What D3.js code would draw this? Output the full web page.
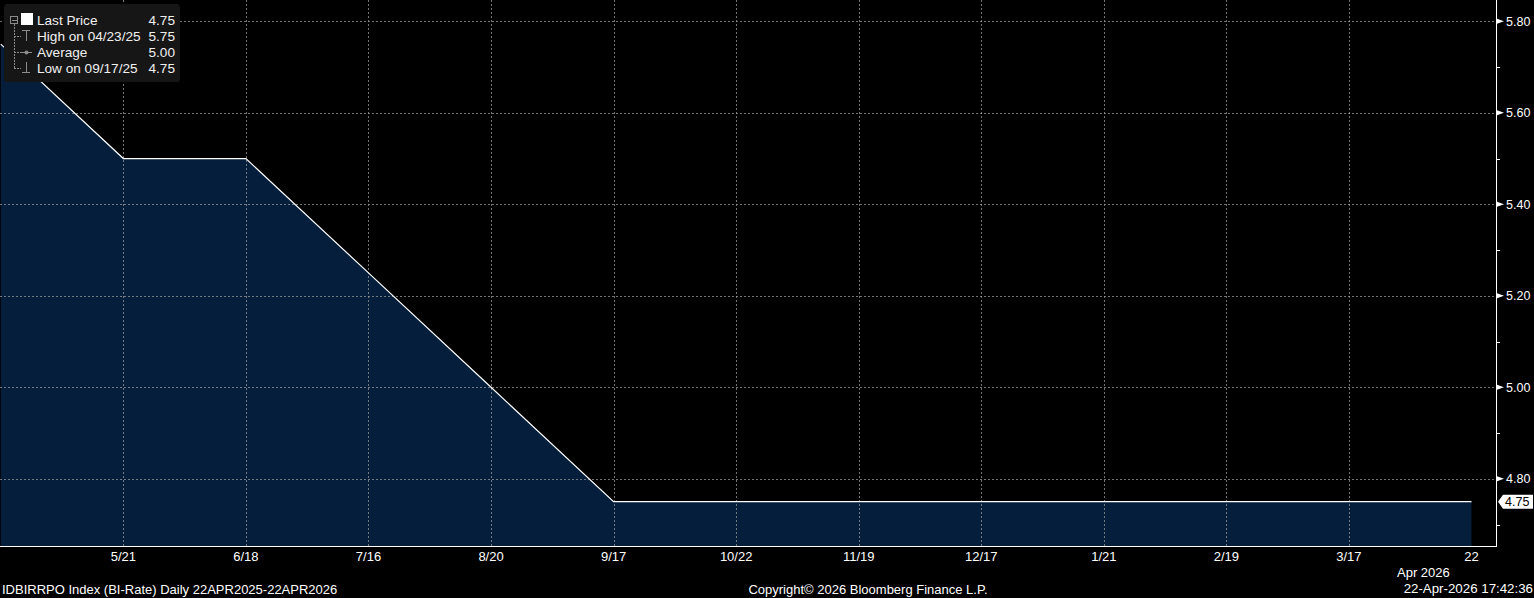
<!DOCTYPE html>
<html><head><meta charset="utf-8">
<script src="https://cdn.jsdelivr.net/npm/d3@7"></script>
<style>html,body{margin:0;padding:0;background:#000;overflow:hidden}</style>
</head><body><svg id="c" width="1534" height="598"></svg>
<script>
const dates = ["4/23","5/21","6/18","7/16","8/20","9/17","10/22","11/19","12/17","1/21","2/19","3/17","4/22"];
const tickLabels = ["", "5/21","6/18","7/16","8/20","9/17","10/22","11/19","12/17","1/21","2/19","3/17","22"];
const values = [5.75,5.50,5.50,5.25,5.00,4.75,4.75,4.75,4.75,4.75,4.75,4.75,4.75];
const yTicks = [4.80,5.00,5.20,5.40,5.60,5.80];
const yMinorTicks = [4.70,4.90,5.10,5.30,5.50,5.70];
const legendLabels = ["Last Price","High on 04/23/25","Average","Low on 09/17/25"];
const legendValues = ["4.75","5.75","5.00","4.75"];
const lastValue = 4.75;
const footerLeft = "IDBIRRPO Index (BI-Rate) Daily 22APR2025-22APR2026";
const footerMid = "Copyright\u00A9 2026 Bloomberg Finance L.P.";
const footerRight = "22-Apr-2026 17:42:36";
const yearLabel = "Apr 2026";

const W = 1534, H = 598;
const plotRight = 1496, plotBottom = 546;
const FONT = "'Liberation Sans', Arial, sans-serif";
const svg = d3.select("#c");
svg.append("rect").attr("width", W).attr("height", H).attr("fill", "#000");

const x = d3.scalePoint().domain(dates).range([0.8, 1471.5]);
const y = d3.scaleLinear().domain([4.80, 5.80]).range([478.8, 21.3]);
const data = dates.map((d, i) => ({d, v: values[i]}));

// area
svg.append("path").datum(data)
  .attr("d", d3.area().x(p => x(p.d)).y0(plotBottom).y1(p => y(p.v)))
  .attr("fill", "#041e3b");

// gridlines
const grid = svg.append("g").attr("stroke", "#9a9a9a").attr("stroke-opacity", 0.75)
  .attr("stroke-width", 1).attr("stroke-dasharray", "2,2").attr("shape-rendering", "crispEdges");
grid.selectAll("line.h").data(yTicks).join("line")
  .attr("x1", 0).attr("x2", plotRight).attr("y1", d => Math.round(y(d)) + 0.5).attr("y2", d => Math.round(y(d)) + 0.5);
grid.selectAll("line.v").data(dates.slice(1, -1)).join("line")
  .attr("y1", 0).attr("y2", plotBottom).attr("x1", d => Math.round(x(d)) + 0.5).attr("x2", d => Math.round(x(d)) + 0.5);

// line
svg.append("path").datum(data)
  .attr("d", d3.line().x(p => x(p.d)).y(p => y(p.v)))
  .attr("fill", "none").attr("stroke", "#fff").attr("stroke-width", 1.2);

// axes lines
svg.append("line").attr("x1", plotRight + 0.5).attr("x2", plotRight + 0.5).attr("y1", 0).attr("y2", plotBottom + 1)
  .attr("stroke", "#fff").attr("stroke-width", 1).attr("shape-rendering", "crispEdges");
svg.append("line").attr("x1", 0).attr("x2", plotRight + 1).attr("y1", plotBottom + 0.5).attr("y2", plotBottom + 0.5)
  .attr("stroke", "#fff").attr("stroke-width", 1.5).attr("shape-rendering", "crispEdges");

// y ticks
const yg = svg.append("g");
yg.selectAll("path.arr").data(yTicks).join("path")
  .attr("d", d => { const yy = y(d); return `M${plotRight + 1},${yy - 2.5}L${plotRight + 8},${yy}L${plotRight + 1},${yy + 2.5}Z`; })
  .attr("fill", "#fff");
yg.selectAll("line.mn").data(yMinorTicks).join("line")
  .attr("x1", plotRight).attr("x2", plotRight + 4)
  .attr("y1", d => Math.round(y(d)) + 0.5).attr("y2", d => Math.round(y(d)) + 0.5)
  .attr("stroke", "#fff").attr("shape-rendering", "crispEdges");
yg.selectAll("text").data(yTicks).join("text")
  .attr("x", plotRight + 10).attr("y", d => y(d) + 4.5)
  .attr("fill", "#fff").attr("font-family", FONT).attr("font-size", 12.5)
  .text(d => d.toFixed(2));

// last price tag
const ly = y(lastValue);
svg.append("path")
  .attr("d", `M${plotRight + 2},${ly}L${plotRight + 7},${ly - 7}L${W - 1},${ly - 7}L${W - 1},${ly + 7}L${plotRight + 7},${ly + 7}Z`)
  .attr("fill", "#fff");
svg.append("text").attr("x", plotRight + 9).attr("y", ly + 4.5)
  .attr("fill", "#000").attr("font-family", FONT).attr("font-size", 12.5)
  .text(lastValue.toFixed(2));

// x tick labels
svg.append("g").selectAll("text").data(dates.map((d, i) => ({d, t: tickLabels[i]})).filter(o => o.t)).join("text")
  .attr("x", o => x(o.d)).attr("y", 561)
  .attr("text-anchor", "middle").attr("fill", "#fff").attr("font-family", FONT).attr("font-size", 13)
  .text(o => o.t);
svg.append("text").attr("x", 1397).attr("y", 577).attr("fill", "#fff")
  .attr("font-family", FONT).attr("font-size", 13).text(yearLabel);

// footer
svg.append("text").attr("x", 2).attr("y", 594).attr("fill", "#fff")
  .attr("font-family", FONT).attr("font-size", 13).text(footerLeft);
svg.append("text").attr("x", 868).attr("y", 594).attr("text-anchor", "middle").attr("fill", "#fff")
  .attr("font-family", FONT).attr("font-size", 13).text(footerMid);
svg.append("text").attr("x", 1533).attr("y", 593).attr("text-anchor", "end").attr("fill", "#fff")
  .attr("font-family", FONT).attr("font-size", 13.3).text(footerRight);

// legend
const lg = svg.append("g");
lg.append("rect").attr("x", 4).attr("y", 4).attr("width", 176).attr("height", 78).attr("rx", 3)
  .attr("fill", "#161616");
const rowY = [20, 36, 52, 68];
const ic = lg.append("g").attr("stroke", "#8c8c8c").attr("fill", "none").attr("stroke-width", 1).attr("shape-rendering", "crispEdges");
ic.append("rect").attr("x", 10.5).attr("y", 16.5).attr("width", 7).attr("height", 7);
ic.append("line").attr("x1", 12).attr("x2", 17).attr("y1", 20.5).attr("y2", 20.5);
ic.append("line").attr("x1", 14.5).attr("x2", 14.5).attr("y1", 24).attr("y2", 68).attr("stroke-dasharray", "2,1");
[36, 52, 68].forEach(r => ic.append("line").attr("x1", 14).attr("x2", 21).attr("y1", r + 0.5).attr("y2", r + 0.5).attr("stroke-dasharray", "2,1"));
// high icon
ic.append("line").attr("x1", 22).attr("x2", 30).attr("y1", 30.5).attr("y2", 30.5);
ic.append("line").attr("x1", 26.5).attr("x2", 26.5).attr("y1", 30).attr("y2", 41);
// average icon
ic.append("line").attr("x1", 21).attr("x2", 32).attr("y1", 52.5).attr("y2", 52.5);
lg.append("circle").attr("cx", 26.5).attr("cy", 52.5).attr("r", 2).attr("fill", "#8c8c8c");
// low icon
ic.append("line").attr("x1", 26.5).attr("x2", 26.5).attr("y1", 62).attr("y2", 72);
ic.append("line").attr("x1", 22).attr("x2", 30).attr("y1", 72.5).attr("y2", 72.5);
lg.append("rect").attr("x", 21).attr("y", 13).attr("width", 12).attr("height", 12).attr("fill", "#fff");
lg.selectAll("text.l").data(legendLabels).join("text")
  .attr("x", 37).attr("y", (d, i) => rowY[i] + 5)
  .attr("fill", "#f0f0f0").attr("font-family", FONT).attr("font-size", 13.6).text(d => d);
lg.selectAll("text.v").data(legendValues).join("text")
  .attr("x", 175).attr("y", (d, i) => rowY[i] + 5).attr("text-anchor", "end")
  .attr("fill", "#f0f0f0").attr("font-family", FONT).attr("font-size", 13.6).text(d => d);
</script>
</body></html>
